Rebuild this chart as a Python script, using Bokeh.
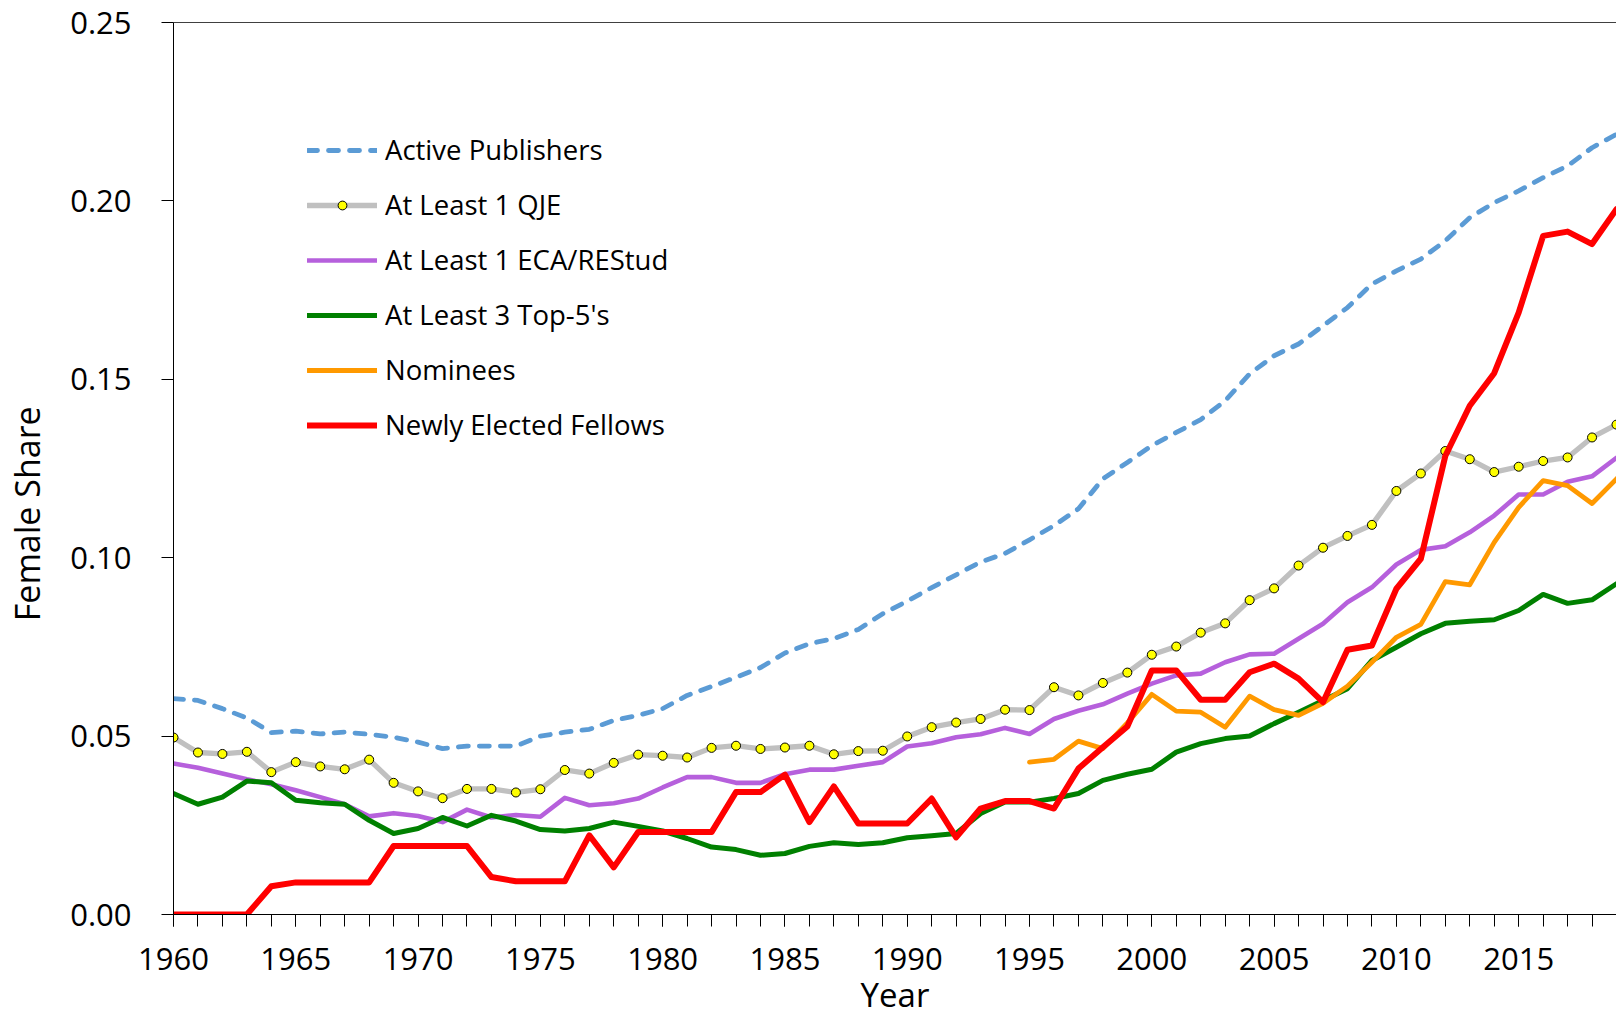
from bokeh.plotting import figure
from bokeh.models import (Range1d, SingleIntervalTicker, NumeralTickFormatter, Legend, LegendItem,
                          LinearAxis, FixedTicker, Title, ColumnDataSource)
from bokeh.embed import file_html
from bokeh.resources import INLINE

years = list(range(1960, 2020))

active_publishers = [
    0.0605, 0.0600, 0.0577, 0.0551, 0.0510, 0.0514, 0.0506, 0.0511, 0.0505, 0.0497,
    0.0483, 0.0465, 0.0472, 0.0472, 0.0472, 0.0500, 0.0511, 0.0519, 0.0544, 0.0558,
    0.0577, 0.0614, 0.0639, 0.0665, 0.0692, 0.0733, 0.0759, 0.0773, 0.0799, 0.0843,
    0.0878, 0.0916, 0.0952, 0.0988, 0.1012, 0.1050, 0.1090, 0.1137, 0.1221, 0.1267,
    0.1314, 0.1351, 0.1387, 0.1440, 0.1515, 0.1566, 0.1599, 0.1650, 0.1701, 0.1767,
    0.1804, 0.1837, 0.1888, 0.1953, 0.1995, 0.2028, 0.2065, 0.2098, 0.2149, 0.2187,
]

at_least_1_qje = [
    0.0496, 0.0454, 0.0450, 0.0456, 0.0399, 0.0427, 0.0415, 0.0407, 0.0434, 0.0369,
    0.0345, 0.0326, 0.0352, 0.0352, 0.0342, 0.0351, 0.0405, 0.0395, 0.0425, 0.0448,
    0.0445, 0.0440, 0.0467, 0.0473, 0.0464, 0.0468, 0.0473, 0.0449, 0.0458, 0.0459,
    0.0499, 0.0525, 0.0538, 0.0548, 0.0574, 0.0573, 0.0637, 0.0614, 0.0649, 0.0678,
    0.0728, 0.0751, 0.0790, 0.0816, 0.0881, 0.0914, 0.0978, 0.1028, 0.1061, 0.1092,
    0.1187, 0.1236, 0.1299, 0.1276, 0.1240, 0.1255, 0.1271, 0.1281, 0.1337, 0.1373,
]

at_least_1_eca_restud = [
    0.0423, 0.0411, 0.0395, 0.0379, 0.0365, 0.0348, 0.0329, 0.0309, 0.0275, 0.0284,
    0.0276, 0.0259, 0.0294, 0.0272, 0.0279, 0.0274, 0.0327, 0.0306, 0.0312, 0.0325,
    0.0356, 0.0385, 0.0385, 0.0369, 0.0369, 0.0393, 0.0406, 0.0406, 0.0417, 0.0427,
    0.0471, 0.0480, 0.0497, 0.0505, 0.0523, 0.0506, 0.0548, 0.0571, 0.0589, 0.0619,
    0.0647, 0.0670, 0.0675, 0.0707, 0.0729, 0.0731, 0.0773, 0.0815, 0.0875, 0.0917,
    0.0981, 0.1022, 0.1032, 0.1071, 0.1118, 0.1177, 0.1177, 0.1213, 0.1228, 0.1280,
]

at_least_3_top5 = [
    0.0339, 0.0309, 0.0329, 0.0374, 0.0369, 0.0320, 0.0313, 0.0309, 0.0264, 0.0227,
    0.0241, 0.0272, 0.0248, 0.0278, 0.0262, 0.0238, 0.0234, 0.0241, 0.0259, 0.0247,
    0.0234, 0.0213, 0.0189, 0.0182, 0.0166, 0.0171, 0.0191, 0.0201, 0.0196, 0.0201,
    0.0215, 0.0221, 0.0227, 0.0283, 0.0315, 0.0315, 0.0325, 0.0339, 0.0376, 0.0393,
    0.0407, 0.0455, 0.0479, 0.0493, 0.0500, 0.0535, 0.0567, 0.0600, 0.0633, 0.0712,
    0.0749, 0.0787, 0.0816, 0.0822, 0.0826, 0.0852, 0.0897, 0.0872, 0.0882, 0.0927,
]

nominee_years = list(range(1995, 2020))
nominees = [
    0.0427, 0.0435, 0.0486, 0.0465, 0.0537, 0.0617, 0.0570, 0.0567, 0.0525, 0.0612,
    0.0574, 0.0558, 0.0592, 0.0640, 0.0707, 0.0777, 0.0813, 0.0933, 0.0924, 0.1043,
    0.1141, 0.1216, 0.1202, 0.1152, 0.1221,
]

newly_elected_fellows = [
    0.0000, 0.0000, 0.0000, 0.0000, 0.0079, 0.0090, 0.0090, 0.0090, 0.0090, 0.0192,
    0.0192, 0.0192, 0.0192, 0.0105, 0.0093, 0.0093, 0.0093, 0.0222, 0.0132, 0.0231,
    0.0231, 0.0231, 0.0231, 0.0343, 0.0343, 0.0392, 0.0259, 0.0359, 0.0255, 0.0255,
    0.0255, 0.0325, 0.0216, 0.0297, 0.0318, 0.0318, 0.0297, 0.0409, 0.0469, 0.0527,
    0.0684, 0.0684, 0.0602, 0.0602, 0.0679, 0.0703, 0.0661, 0.0595, 0.0742, 0.0754,
    0.0913, 0.0997, 0.1285, 0.1426, 0.1517, 0.1687, 0.1902, 0.1914, 0.1879, 0.1977,
]

series_labels = ["Active Publishers", "At Least 1 QJE", "At Least 1 ECA/REStud",
                 "At Least 3 Top-5's", "Nominees", "Newly Elected Fellows"]
x_title = "Year"
y_title = "Female Share"
y_tick_format = "0.00"

FONT = "Open Sans"

src = ColumnDataSource(dict(year=years, ap=active_publishers, qje=at_least_1_qje,
                            eca=at_least_1_eca_restud, top5=at_least_3_top5,
                            fel=newly_elected_fellows))
nom_src = ColumnDataSource(dict(year=nominee_years, nom=nominees))

p = figure(width=1616, height=1016, output_backend="svg", toolbar_location=None,
           x_range=Range1d(1960, 2019), y_range=Range1d(0, 0.25),
           min_border_left=173, min_border_right=0, min_border_top=22, min_border_bottom=102)
p.grid.visible = False
p.outline_line_color = None
p.background_fill_color = "white"
p.border_fill_color = "white"

common = dict(line_join="round", line_cap="round")
r_ap = p.line("year", "ap", source=src, line_color="#5B9BD5", line_width=4.8,
              line_dash="10 11", line_join="round", line_cap="round")
r_qje = p.line("year", "qje", source=src, line_color="#C0C0C0", line_width=5.3, **common)
r_qje_m = p.scatter("year", "qje", source=src, size=9, fill_color="#FFFF00",
                    line_color="black", line_width=1)
r_eca = p.line("year", "eca", source=src, line_color="#B660DC", line_width=4.6, **common)
r_top = p.line("year", "top5", source=src, line_color="#008000", line_width=5, **common)
r_nom = p.line("year", "nom", source=nom_src, line_color="#FF9900", line_width=4.8, **common)
r_fel = p.line("year", "fel", source=src, line_color="#FF0000", line_width=6, **common)

# X axis
xa = p.xaxis[0]
xa.ticker = SingleIntervalTicker(interval=5, num_minor_ticks=5)
xa.major_tick_out = 12
xa.major_tick_in = 0
xa.minor_tick_out = 12
xa.minor_tick_in = 0
xa.minor_tick_line_color = "black"
xa.major_tick_line_color = "black"
xa.axis_line_color = "black"
xa.major_label_text_font = FONT
xa.major_label_text_font_size = "31px"
xa.major_label_text_color = "black"
xa.major_label_standoff = 21

# Y axis
ya = p.yaxis[0]
ya.ticker = SingleIntervalTicker(interval=0.05, num_minor_ticks=0)
ya.formatter = NumeralTickFormatter(format=y_tick_format)
ya.major_tick_out = 12
ya.major_tick_in = 0
ya.minor_tick_out = 0
ya.minor_tick_in = 0
ya.major_tick_line_color = "black"
ya.axis_line_color = "black"
ya.major_label_text_font = FONT
ya.major_label_text_font_size = "31px"
ya.major_label_text_color = "black"
ya.major_label_standoff = 30
# the reference's y title sits below the frame's middle; trailing wide spaces move it down
ya.axis_label = y_title + "\u2003\u2003\u2002\u2009"
ya.axis_label_text_font = FONT
ya.axis_label_text_font_size = "34px"
ya.axis_label_text_font_style = "normal"
ya.axis_label_text_color = "black"
ya.axis_label_standoff = 17

# top border line
top = LinearAxis(ticker=FixedTicker(ticks=[]), axis_line_color="#404040",
                 major_tick_out=0, major_tick_in=0, minor_tick_out=0, minor_tick_in=0,
                 major_label_text_font_size="0px")
p.add_layout(top, "above")

# x title
xt = Title(text=x_title, align="center", vertical_align="bottom", text_font=FONT,
           text_font_size="33px", text_font_style="normal", text_color="black", standoff=-6)
p.add_layout(xt, "below")

legend = Legend(items=[
    LegendItem(label=series_labels[0], renderers=[r_ap]),
    LegendItem(label=series_labels[1], renderers=[r_qje, r_qje_m]),
    LegendItem(label=series_labels[2], renderers=[r_eca]),
    LegendItem(label=series_labels[3], renderers=[r_top]),
    LegendItem(label=series_labels[4], renderers=[r_nom]),
    LegendItem(label=series_labels[5], renderers=[r_fel]),
], location=(134, 462), glyph_width=70, glyph_height=22, label_height=55,
    label_standoff=8, spacing=0, padding=0, margin=0,
    border_line_color=None, background_fill_alpha=0,
    label_text_font=FONT, label_text_font_size="27.5px", label_text_color="black")
p.add_layout(legend)

open("out.html", "w").write(file_html(p, INLINE))
